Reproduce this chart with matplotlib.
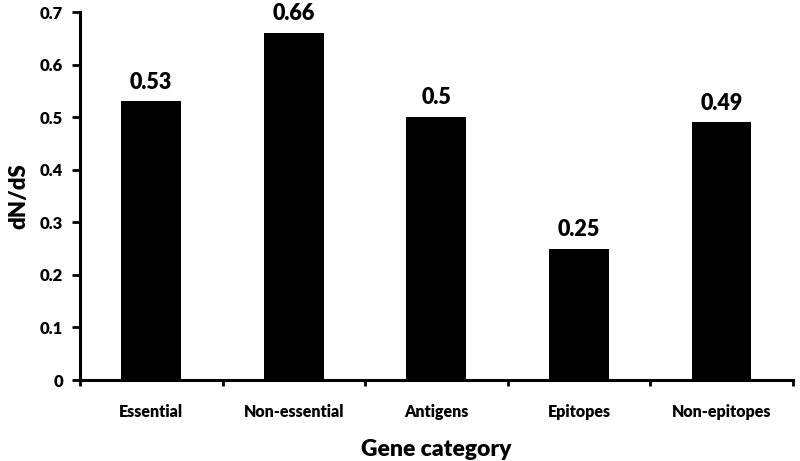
import matplotlib.pyplot as plt
import numpy as np

categories = ["Essential", "Non-essential", "Antigens", "Epitopes", "Non-epitopes"]
values = [0.53, 0.66, 0.5, 0.25, 0.49]
value_labels = ["0.53", "0.66", "0.5", "0.25", "0.49"]

plt.rcParams['font.family'] = ['Lato', 'DejaVu Sans']
W = 'heavy'

fig = plt.figure(figsize=(8, 4.61), dpi=100)
ax = fig.add_axes([0.1, 0.1757, 0.891, 0.798])

x = np.arange(len(categories))
ax.bar(x, values, width=0.42, color='black')

for xi, v, lab in zip(x, values, value_labels):
    ax.text(xi, v + 0.017, lab, ha='center', va='bottom', fontsize=15.5, fontweight=W)

ax.set_xlim(-0.5, len(categories) - 0.5)
ax.set_ylim(0, 0.7)
ax.set_yticks(np.arange(0, 0.71, 0.1))
ax.set_yticklabels(["0", "0.1", "0.2", "0.3", "0.4", "0.5", "0.6", "0.7"])

# category labels centred, tick marks on the boundaries
ax.set_xticks(np.arange(-0.5, len(categories), 1.0))
ax.set_xticklabels([])
ax.set_xticks(x, minor=True)
ax.set_xticklabels(categories, minor=True)
ax.tick_params(axis='x', which='minor', length=0, pad=17, labelsize=11.5)
ax.tick_params(axis='x', which='major', length=4, width=2, direction='out')
ax.tick_params(axis='y', length=6, width=2, direction='out', labelsize=12, pad=6)
for lab in ax.get_xticklabels(minor=True) + ax.get_yticklabels():
    lab.set_fontweight(W)

for side in ['top', 'right']:
    ax.spines[side].set_visible(False)
for side in ['left', 'bottom']:
    ax.spines[side].set_linewidth(2.2)

ax.set_xlabel("Gene category", fontsize=16.5, fontweight=W, labelpad=14)
ax.set_ylabel("dN/dS", fontsize=16, fontweight=W, labelpad=8)

fig.savefig("out.png", dpi=100)
